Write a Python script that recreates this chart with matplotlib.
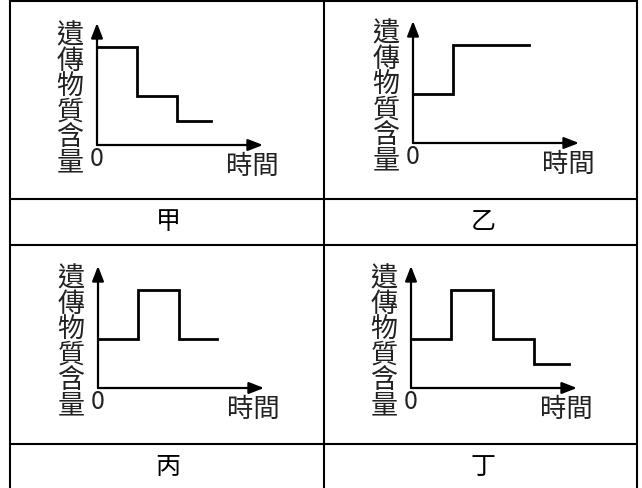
import matplotlib
matplotlib.use("Agg")
import matplotlib.pyplot as plt

plt.rcParams['font.family'] = ['Noto Sans CJK TC', 'DejaVu Sans']

W, H = 642, 489

# panel names and step data (time edges, level of each step)
names = ["甲", "乙", "丙", "丁"]
edges = [
    [0, 1, 2, 2.85],
    [0, 1, 2.9],
    [0, 1, 2.02, 2.97],
    [0, 1, 2.05, 3.08, 3.95],
]
levels = [
    [4, 2, 1],
    [2, 4],
    [2, 4, 2],
    [2, 4, 2, 1],
]
ylabel = "遺傳物質含量"
xlabel = "時間"

# pixel origin of each little chart and the centre of its name cell
origins = [(97, 146), (413, 144), (98, 389), (411, 389)]
name_pos = [(168, 222), (483, 222), (168, 467), (483, 467)]

fig = plt.figure(figsize=(W / 100, H / 100), dpi=100)
bg = fig.add_axes([0, 0, 1, 1])
bg.set_xlim(0, W)
bg.set_ylim(H, 0)
bg.axis("off")

# table grid
lw_tab = 1.5
for x in (10, 324, 637):
    bg.plot([x, x], [1, H], color="black", lw=lw_tab, solid_capstyle="butt")
for y in (2, 200, 246, 445):
    bg.plot([10, 637], [y, y], color="black", lw=lw_tab, solid_capstyle="butt")

ux, uy = 40.0, 24.5  # pixels per time unit / level unit
xmax, ymax = 4.4, 5.3

for i, name in enumerate(names):
    ox, oy = origins[i]
    ax = fig.add_axes([ox / W, (H - oy) / H, xmax * ux / W, ymax * uy / H])
    ax.set_xlim(0, xmax)
    ax.set_ylim(0, ymax)
    ax.axis("off")

    # axes with arrows
    ap = dict(arrowstyle="-|>,head_length=0.9,head_width=0.35", lw=1.6,
              color="black", shrinkA=0, shrinkB=0)
    ax.annotate("", xy=(4.15, 0), xytext=(0, 0), arrowprops=ap,
                annotation_clip=False)
    ax.annotate("", xy=(0, 4.98), xytext=(0, 0), arrowprops=ap,
                annotation_clip=False)

    # step curve
    xs, ys = [], []
    e, v = edges[i], levels[i]
    for k in range(len(v)):
        xs += [e[k], e[k + 1]]
        ys += [v[k], v[k]]
    ax.plot(xs, ys, color="black", lw=2.0, solid_joinstyle="miter",
            clip_on=False)

    # vertical y label
    for k, ch in enumerate(ylabel):
        bg.text(ox - 27, oy - 110 + 25.3 * k, ch, fontsize=19.5,
                ha="center", va="center", color="#222222")
    bg.text(ox, oy + 13, "0", fontsize=18, ha="center", va="center",
            color="#222222")
    bg.text(ox + 155, oy + 20, xlabel, fontsize=19, ha="center",
            va="center", color="#222222")

    bg.text(name_pos[i][0], name_pos[i][1], name, fontsize=18,
            ha="center", va="center")

fig.savefig("out.png", dpi=100)
